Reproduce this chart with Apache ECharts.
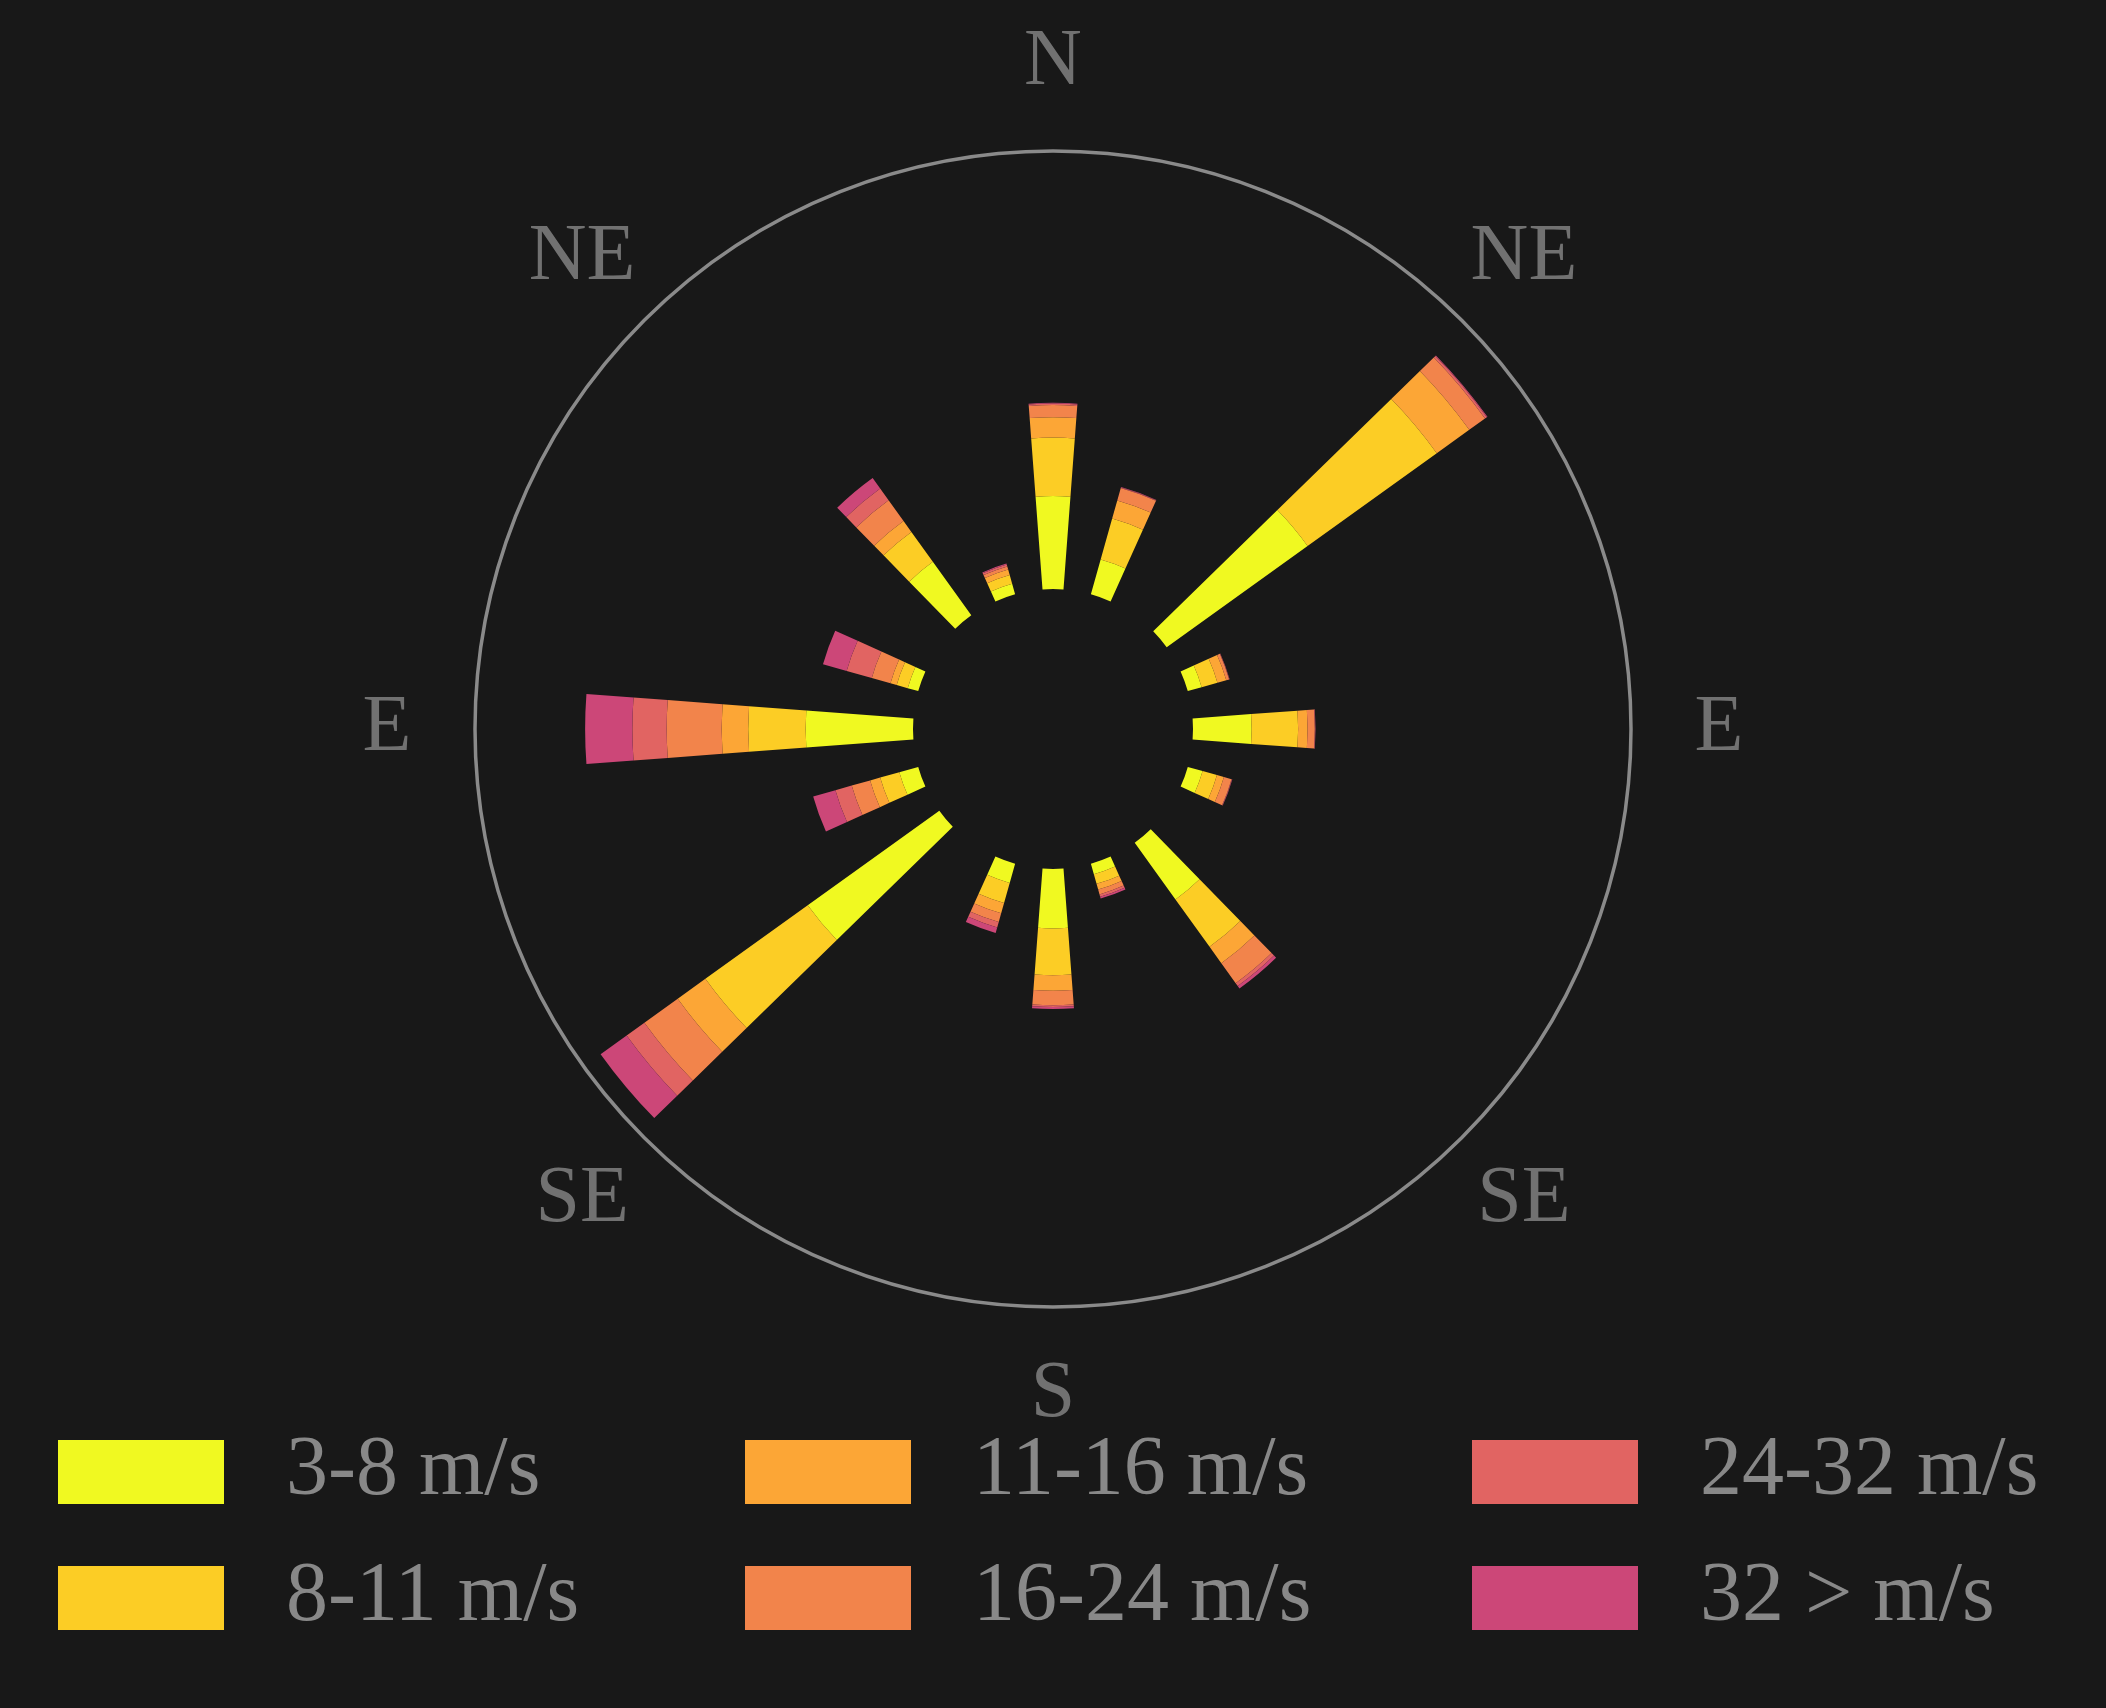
<!DOCTYPE html>
<html>
<head>
<meta charset="utf-8">
<script src="https://cdn.jsdelivr.net/npm/echarts@6/dist/echarts.min.js"></script>
<style>
html,body{margin:0;padding:0;background:#181818;}
#chart{width:2106px;height:1708px;}
</style>
</head>
<body>
<div id="chart"></div>
<script>
// Compass direction of each bar (degrees clockwise from north)
const directions = [0, 20, 50, 70, 90, 110, 140, 160, 180, 200, 230, 250, 270, 290, 320, 340];
const speedBins = ['3-8 m/s', '8-11 m/s', '11-16 m/s', '16-24 m/s', '24-32 m/s', '32 > m/s'];
const binColors = ['#f0f921', '#fccd25', '#fca636', '#f2844b', '#e16462', '#cc4778'];

// Frequency (%) per direction for each speed bin
const s3to8   = [3.74, 1.45, 6.98, 0.58, 2.36, 0.62, 2.81, 0.44, 2.39, 0.80, 6.52, 0.79, 4.32, 0.44, 2.65, 0.44];
const s8to11  = [2.35, 1.71, 6.40, 0.66, 1.87, 0.60, 2.35, 0.40, 1.88, 0.84, 5.07, 0.80, 2.31, 0.46, 1.48, 0.36];
const s11to16 = [0.82, 0.76, 1.61, 0.37, 0.38, 0.29, 0.81, 0.24, 0.63, 0.43, 1.37, 0.42, 1.07, 0.26, 0.54, 0.23];
const s16to24 = [0.49, 0.52, 0.78, 0.12, 0.29, 0.32, 0.99, 0.20, 0.58, 0.36, 1.65, 0.77, 2.21, 0.78, 1.03, 0.13];
const s24to32 = [0.06, 0.02, 0.09, 0.01, 0.02, 0.02, 0.14, 0.10, 0.07, 0.23, 0.88, 0.68, 1.38, 1.05, 0.58, 0.08];
const s32up   = [0.03, 0.02, 0.03, 0.01, 0.01, 0.01, 0.12, 0.07, 0.08, 0.23, 1.29, 0.93, 1.90, 0.99, 0.52, 0.04];
const seriesValues = [s3to8, s8to11, s11to16, s16to24, s24to32, s32up];
const radialMax = 17.62;

// Compass tick labels
const compassLabels = ['N', 'NE', 'E', 'SE', 'S', 'SE', 'E', 'NE'];
const compassAngles = [0, 45, 90, 135, 180, 225, 270, 315];

// 36 angular slots of 10 degrees
const slotCount = 36;
const slots = Array.from({length: slotCount}, (_, i) => String(i * 10));
function toSlots(vals) {
  const arr = new Array(slotCount).fill('-');
  directions.forEach((d, i) => { arr[Math.round(d / 10) % slotCount] = vals[i]; });
  return arr;
}

const C = [1053, 729];
const FONT = 'Liberation Serif';
const GREY = '#888888';

const chart = echarts.init(document.getElementById('chart'), null, {renderer: 'canvas'});

const legendBase = {
  orient: 'vertical', top: 1430, padding: 0,
  itemWidth: 166, itemHeight: 64, itemGap: 42,
  icon: 'rect', selectedMode: false,
  textStyle: {color: GREY, fontFamily: FONT, fontSize: 84, padding: [0, 0, 0, 57]}
};

chart.setOption({
  backgroundColor: '#181818',
  animation: false,
  polar: [
    {center: C, radius: [140, 578]},
    {center: C, radius: [0, 578]},
    {center: C, radius: [0, 666]}
  ],
  angleAxis: [
    {polarIndex: 0, type: 'category', data: slots, startAngle: 95, clockwise: true, boundaryGap: true,
     axisLine: {show: false}, axisTick: {show: false}, axisLabel: {show: false}, splitLine: {show: false}},
    {polarIndex: 1, type: 'value', min: 0, max: 360, startAngle: 90, clockwise: true,
     axisLine: {show: true, lineStyle: {color: '#8a8a8a', width: 3.5}},
     axisTick: {show: false}, axisLabel: {show: false}, splitLine: {show: false}},
    {polarIndex: 2, type: 'value', min: 0, max: 360, startAngle: 90, clockwise: true, show: false}
  ],
  radiusAxis: [
    {polarIndex: 0, type: 'value', min: 0, max: radialMax, show: false},
    {polarIndex: 1, type: 'value', min: 0, max: 1, show: false},
    {polarIndex: 2, type: 'value', min: 0, max: 1, show: false}
  ],
  legend: [
    Object.assign({}, legendBase, {left: 58, data: [speedBins[0], speedBins[1]]}),
    Object.assign({}, legendBase, {left: 745, data: [speedBins[2], speedBins[3]]}),
    Object.assign({}, legendBase, {left: 1472, data: [speedBins[4], speedBins[5]]})
  ],
  series: speedBins.map((name, k) => ({
    type: 'bar', coordinateSystem: 'polar', polarIndex: 0,
    name: name, stack: 'wind', barWidth: '85.9%',
    data: toSlots(seriesValues[k]),
    itemStyle: {color: binColors[k]},
    silent: true
  })).concat([{
    type: 'scatter', coordinateSystem: 'polar', polarIndex: 2, name: 'compass',
    clip: false, silent: true, symbolSize: 1,
    itemStyle: {color: 'rgba(0,0,0,0)'},
    data: compassAngles.map((a, i) => ({value: [1, a], name: compassLabels[i]})),
    label: {show: true, position: 'inside', formatter: '{b}', color: GREY,
            fontFamily: FONT, fontSize: 80}
  }])
});
</script>
</body>
</html>
